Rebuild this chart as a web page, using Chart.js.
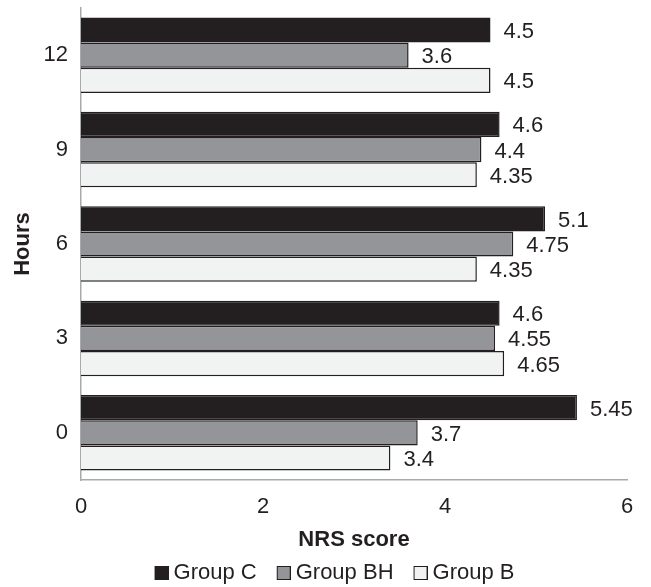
<!DOCTYPE html>
<html>
<head>
<meta charset="utf-8">
<script src="https://cdn.jsdelivr.net/npm/chart.js@4/dist/chart.umd.min.js"></script>
<style>
  html, body { margin: 0; padding: 0; background: #fff; }
  #wrap { width: 651px; height: 587px; }
</style>
</head>
<body>
<div id="wrap"><canvas id="c" width="651" height="587"></canvas></div>
<script>
// Hours after surgery (drawn 12 at top, 0 at bottom)
const hours = ['0', '3', '6', '9', '12'];
// NRS scores per group, in the same order as hours
const groupC  = [5.45, 4.6, 5.1, 4.6, 4.5];
const groupBH = [3.7, 4.55, 4.75, 4.4, 3.6];
const groupB  = [3.4, 4.65, 4.35, 4.35, 4.5];
const xTicks = [0, 2, 4, 6];

const FONT = 'Liberation Sans, Arial, Helvetica, sans-serif';
const SIZE = 22;
const INK = '#231f20';
const AXIS = '#a7a9ac';
const FILLS = [INK, '#939598', '#f1f2f2'];

// Legend swatch: a small outlined square sitting at the right of its canvas,
// so the label text starts close to it
function swatch(fill) {
  const c = document.createElement('canvas');
  c.width = 20; c.height = 14;
  const g = c.getContext('2d');
  g.fillStyle = fill;
  g.fillRect(6, 0, 14, 14);
  g.strokeStyle = INK;
  g.lineWidth = 1;
  g.strokeRect(6.5, 0.5, 13, 13);
  return c;
}

// Writes each bar's value just past its end
const valueLabels = {
  id: 'valueLabels',
  afterDatasetsDraw(chart) {
    const ctx = chart.ctx;
    ctx.save();
    ctx.font = SIZE + 'px ' + FONT;
    ctx.fillStyle = INK;
    ctx.textAlign = 'left';
    ctx.textBaseline = 'middle';
    chart.data.datasets.forEach((ds, di) => {
      chart.getDatasetMeta(di).data.forEach((bar, i) => {
        ctx.fillText(String(ds.data[i]), bar.x + 13, bar.y + 2);
      });
    });
    ctx.restore();
  }
};

// Nudges the legend row to the right of the centre line
const legendShift = {
  id: 'legendShift',
  afterLayout(chart) {
    const lg = chart.legend;
    if (lg) { lg.left += 21; lg.right += 21; }
  }
};

new Chart(document.getElementById('c'), {
  type: 'bar',
  data: {
    labels: hours,
    datasets: [
      { label: 'Group C',  data: groupC,  backgroundColor: FILLS[0], borderColor: INK, borderWidth: 1.5 },
      { label: 'Group BH', data: groupBH, backgroundColor: FILLS[1], borderColor: INK, borderWidth: 1.5 },
      { label: 'Group B',  data: groupB,  backgroundColor: FILLS[2], borderColor: INK, borderWidth: 1.5 }
    ]
  },
  options: {
    indexAxis: 'y',
    responsive: false,
    animation: false,
    devicePixelRatio: 1,
    layout: { padding: { left: 0, right: 24, top: 8, bottom: -7 } },
    datasets: { bar: { categoryPercentage: 0.8, barPercentage: 1.0 } },
    scales: {
      x: {
        min: 0, max: 6,
        afterBuildTicks(scale) { scale.ticks = xTicks.map(v => ({ value: v })); },
        afterFit(scale) { scale.height = 62; },
        grid: { display: false, drawTicks: false, tickLength: 0 },
        border: { display: true, color: AXIS, width: 1.5 },
        ticks: { color: INK, font: { family: FONT, size: SIZE }, padding: 14, maxRotation: 0 },
        title: { display: true, text: 'NRS score', color: INK, font: { family: FONT, size: SIZE, weight: 'bold', lineHeight: 1 }, padding: { top: 0, bottom: -9 } }
      },
      y: {
        reverse: true,
        afterFit(scale) { scale.width = 81; scale.paddingTop = 0; scale.paddingBottom = 0; },
        grid: { display: false, drawTicks: false, tickLength: 0 },
        border: { display: true, color: AXIS, width: 1.5 },
        ticks: { color: INK, font: { family: FONT, size: SIZE }, padding: 13 },
        title: { display: true, text: 'Hours', color: INK, font: { family: FONT, size: SIZE, weight: 'bold' }, padding: { top: 10, bottom: 0 } }
      }
    },
    plugins: {
      legend: {
        position: 'bottom',
        labels: {
          color: INK,
          font: { family: FONT, size: SIZE },
          usePointStyle: true,
          boxWidth: 8, boxHeight: 14,
          padding: 20,
          generateLabels(chart) {
            return chart.data.datasets.map((ds, i) => ({
              text: ds.label,
              fillStyle: ds.backgroundColor,
              strokeStyle: INK,
              lineWidth: 1,
              pointStyle: swatch(FILLS[i]),
              fontColor: INK,
              datasetIndex: i,
              hidden: false
            }));
          }
        }
      },
      tooltip: { enabled: false }
    }
  },
  plugins: [valueLabels, legendShift]
});
</script>
</body>
</html>
